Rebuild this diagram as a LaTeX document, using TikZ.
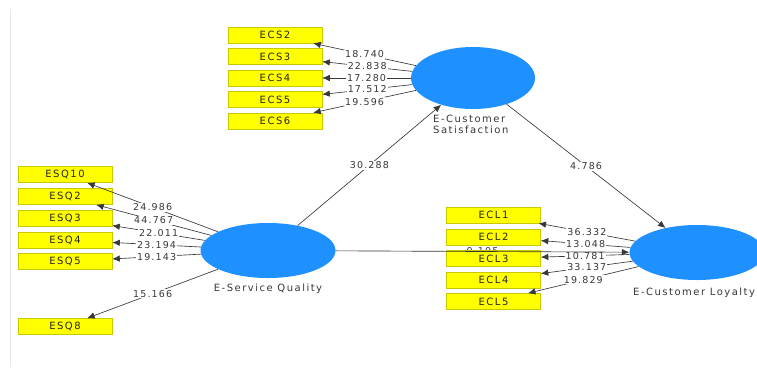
\documentclass[tikz,border=0pt]{standalone}
\usepackage{fontspec}
\setmainfont{DejaVu Sans}
\newfontfamily\plsfont[LetterSpace=12]{DejaVu Sans}
\newfontfamily\plswide[LetterSpace=15]{DejaVu Sans}
\usepackage{tikz}
\usetikzlibrary{shapes.geometric, arrows.meta, positioning}
\definecolor{lvblue}{HTML}{1E90FF}
\definecolor{mvyellow}{HTML}{FFFF00}
\definecolor{mvborder}{HTML}{C8C800}
\definecolor{pathgray}{HTML}{383838}
\definecolor{framegray}{HTML}{E6E6E6}

\begin{document}
\begin{tikzpicture}[x=1pt, y=-1pt,
    latent/.style={ellipse, fill=lvblue, draw=none, inner sep=0pt},
    mvbox/.style={rectangle, fill=mvyellow, draw=mvborder, line width=0.6pt,
                  minimum width=94pt, minimum height=16pt, inner sep=0pt,
                  font=\plswide\fontsize{10}{11}\selectfont, text=black!85},
    lvlabel/.style={align=left, inner sep=0pt, text=pathgray,
                    font=\plswide\fontsize{10}{10.5}\selectfont},
    loading/.style={fill=white, text=pathgray, inner sep=1pt,
                    font=\plsfont\fontsize{9.5}{11}\selectfont},
    outer/.style={draw=pathgray, line width=0.65pt, -{Latex[length=7.5pt,width=6.5pt]}}
]
\clip (0,0) rectangle (757,367);
\fill[white] (0,0) rectangle (757,367);
\draw[framegray, line width=1pt] (10,9) -- (10,367);

\node[latent, minimum width=124pt, minimum height=62pt]  (ecs) at (473,78)    {};
\node[latent, minimum width=135pt, minimum height=55pt]  (esq) at (268,250.5) {};
\node[latent, minimum width=135pt, minimum height=55pt]  (ecl) at (697,252.5) {};

\node[lvlabel, anchor=north west] (ecstxt) at (433,115) {E-Customer\\Satisfaction};
\node[lvlabel] (esqtxt) at (268,288.5) {E-Service Quality};
\node[lvlabel, anchor=west] (ecltxt) at (633,292.5) {E-Customer Loyalty};

\path (esq) -- node[loading, fill=none] {0.105} (ecl);

\node[mvbox] (ecs2) at (275,35)    {ECS2};
\node[mvbox] (ecs3) at (275,56.5)  {ECS3};
\node[mvbox] (ecs4) at (275,78)    {ECS4};
\node[mvbox] (ecs5) at (275,99.5)  {ECS5};
\node[mvbox] (ecs6) at (275,121)   {ECS6};

\node[mvbox] (esq10) at (65,174.5) {ESQ10};
\node[mvbox] (esq2)  at (65,196.5) {ESQ2};
\node[mvbox] (esq3)  at (65,218)   {ESQ3};
\node[mvbox] (esq4)  at (65,240)   {ESQ4};
\node[mvbox] (esq5)  at (65,261.5) {ESQ5};
\node[mvbox] (esq8)  at (65,326.5) {ESQ8};

\node[mvbox] (ecl1) at (493.5,215)   {ECL1};
\node[mvbox] (ecl2) at (493.5,237)   {ECL2};
\node[mvbox] (ecl3) at (493.5,258.5) {ECL3};
\node[mvbox] (ecl4) at (493.5,280)   {ECL4};
\node[mvbox] (ecl5) at (493.5,301.5) {ECL5};

\draw[outer] (ecs) -- node[loading] {18.740} (ecs2);
\draw[outer] (ecs) -- node[loading] {22.838} (ecs3);
\draw[outer] (ecs) -- node[loading] {17.280} (ecs4);
\draw[outer] (ecs) -- node[loading] {17.512} (ecs5);
\draw[outer] (ecs) -- node[loading] {19.596} (ecs6);

\draw[outer] (esq) -- node[loading] {24.986} (esq10);
\draw[outer] (esq) -- node[loading] {44.767} (esq2);
\draw[outer] (esq) -- node[loading] {22.011} (esq3);
\draw[outer] (esq) -- node[loading] {23.194} (esq4);
\draw[outer] (esq) -- node[loading] {19.143} (esq5);
\draw[outer] (esq) -- node[loading] {15.166} (esq8);

\draw[outer] (ecl) -- node[loading] {36.332} (ecl1);
\draw[outer] (ecl) -- node[loading] {13.048} (ecl2);
\draw[outer] (ecl) -- node[loading] {10.781} (ecl3);
\draw[outer] (ecl) -- node[loading] {33.137} (ecl4);
\draw[outer] (ecl) -- node[loading] {19.829} (ecl5);

\draw[outer] (esq) -- node[loading] {30.288} (ecs);
\draw[outer] (ecs) -- node[loading] {4.786} (ecl);
\draw[outer] (esq) -- (ecl);
\end{tikzpicture}
\end{document}
